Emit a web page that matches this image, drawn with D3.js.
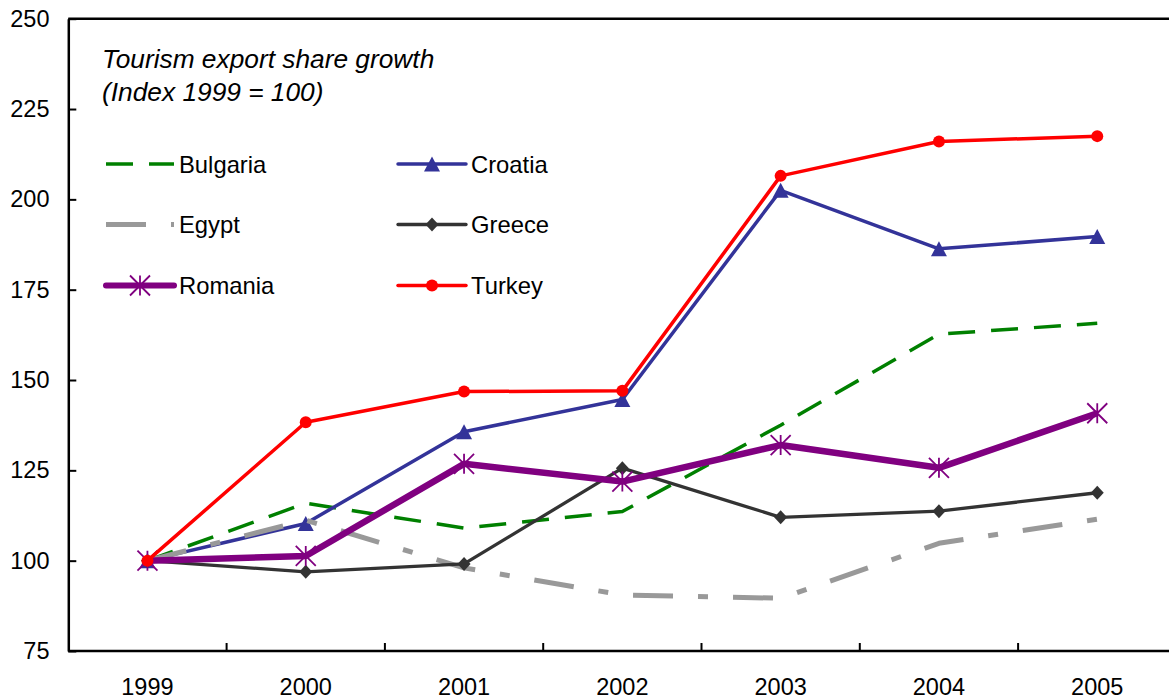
<!DOCTYPE html>
<html>
<head>
<meta charset="utf-8">
<script src="https://cdn.jsdelivr.net/npm/d3@7"></script>
<style>
  html, body { margin: 0; padding: 0; background: #fff; }
  svg { display: block; font-family: "Liberation Sans", Arial, sans-serif; }
</style>
</head>
<body>
<svg id="chart" width="1169" height="700"></svg>
<script>
// Tourism export share growth, index 1999 = 100
const years = ["1999", "2000", "2001", "2002", "2003", "2004", "2005"];
const bulgaria = [100, 115.9, 109.0, 113.6, 137.5, 162.7, 165.7];
const croatia  = [100, 110.3, 135.7, 144.6, 202.5, 186.3, 189.7];
const egypt    = [100, 111.2, 98.0, 90.5, 89.6, 104.8, 111.5];
const greece   = [100, 96.9, 99.1, 125.6, 112.0, 113.7, 118.8];
const romania  = [100, 101.3, 126.8, 121.9, 132.0, 125.7, 140.8];
const turkey   = [100, 138.3, 146.8, 147.0, 206.5, 216.0, 217.5];
const yTicks = [75, 100, 125, 150, 175, 200, 225, 250];
const titleLines = ["Tourism export share growth", "(Index 1999 = 100)"];

const series = [
  { name: "Bulgaria", values: bulgaria, color: "#008000", width: 3.5, dash: "27,16", marker: null },
  { name: "Croatia",  values: croatia,  color: "#333399", width: 3.5, dash: null, marker: "triangle" },
  { name: "Egypt",    values: egypt,    color: "#999999", width: 5,   dash: "40,25,10,25", marker: null },
  { name: "Greece",   values: greece,   color: "#333333", width: 3.3, dash: null, marker: "diamond" },
  { name: "Romania",  values: romania,  color: "#800080", width: 6.5, dash: null, marker: "asterisk" },
  { name: "Turkey",   values: turkey,   color: "#ff0000", width: 3.5, dash: null, marker: "circle" }
];

const svg = d3.select("#chart");
const plotLeft = 68.3, plotTop = 18.7, plotBottom = 651, band = 158.3;

const x = d3.scaleBand().domain(years).range([plotLeft, plotLeft + band * years.length]).padding(0);
const y = d3.scaleLinear().domain([75, 250]).range([plotBottom, plotTop]);
const cx = d => x(d) + x.bandwidth() / 2;

// top frame line
svg.append("line")
  .attr("x1", plotLeft).attr("x2", x.range()[1])
  .attr("y1", plotTop).attr("y2", plotTop)
  .attr("stroke", "#000").attr("stroke-width", 2.5);

// y axis, ticks pointing inward
const yAxis = svg.append("g")
  .attr("transform", `translate(${plotLeft},0)`)
  .call(d3.axisRight(y).tickValues(yTicks).tickSize(8).tickSizeOuter(0).tickFormat(""));
yAxis.select(".domain").attr("stroke", "#000").attr("stroke-width", 2.5);
yAxis.selectAll(".tick line").attr("stroke", "#000").attr("stroke-width", 2);

svg.append("g").selectAll("text").data(yTicks).join("text")
  .attr("x", 49.5).attr("y", d => y(d))
  .attr("text-anchor", "end").attr("dominant-baseline", "central")
  .attr("font-size", 23.5).attr("fill", "#000")
  .text(d => d);

// x axis, ticks between categories pointing inward
const xAxisG = svg.append("g");
xAxisG.append("line")
  .attr("x1", plotLeft).attr("x2", x.range()[1])
  .attr("y1", plotBottom).attr("y2", plotBottom)
  .attr("stroke", "#000").attr("stroke-width", 2.5);
xAxisG.selectAll("line.tk").data(years).join("line")
  .attr("class", "tk")
  .attr("x1", d => x(d) + band).attr("x2", d => x(d) + band)
  .attr("y1", plotBottom).attr("y2", plotBottom - 8)
  .attr("stroke", "#000").attr("stroke-width", 2);
xAxisG.selectAll("text").data(years).join("text")
  .attr("x", d => cx(d)).attr("y", 695)
  .attr("text-anchor", "middle")
  .attr("font-size", 23.5).attr("fill", "#000")
  .text(d => d);

// marker drawing helper
function drawMarker(g, type, color, px, py) {
  if (type === "triangle") {
    g.append("path")
      .attr("d", `M${px},${py - 7.5}L${px + 8},${py + 7.5}L${px - 8},${py + 7.5}Z`)
      .attr("fill", color);
  } else if (type === "diamond") {
    g.append("path")
      .attr("d", `M${px},${py - 7}L${px + 6.5},${py}L${px},${py + 7}L${px - 6.5},${py}Z`)
      .attr("fill", color);
  } else if (type === "circle") {
    g.append("circle").attr("cx", px).attr("cy", py).attr("r", 6).attr("fill", color);
  } else if (type === "asterisk") {
    const r = 10;
    g.append("path")
      .attr("d", `M${px - r},${py - r}L${px + r},${py + r}M${px + r},${py - r}L${px - r},${py + r}M${px},${py - r}L${px},${py + r}`)
      .attr("stroke", color).attr("stroke-width", 1.8).attr("fill", "none");
  }
}

const line = d3.line().x((d, i) => cx(years[i])).y(d => y(d));

series.forEach(s => {
  const g = svg.append("g");
  g.append("path")
    .attr("d", line(s.values))
    .attr("fill", "none")
    .attr("stroke", s.color)
    .attr("stroke-width", s.width)
    .attr("stroke-linejoin", "round")
    .attr("stroke-dasharray", s.dash);
  if (s.marker) {
    s.values.forEach((v, i) => drawMarker(g, s.marker, s.color, cx(years[i]), y(v)));
  }
});

// title
const title = svg.append("text")
  .attr("font-size", 26.3).attr("font-style", "italic").attr("fill", "#000");
titleLines.forEach((t, i) => {
  title.append("tspan").attr("x", 102).attr("y", 68 + i * 32.5).text(t);
});

// legend in two columns
const legendCols = [106, 398];
const legendRows = [164, 224.5, 285.5];
series.forEach((s, i) => {
  const lx = legendCols[i % 2];
  const ly = legendRows[Math.floor(i / 2)];
  const g = svg.append("g");
  g.append("line")
    .attr("x1", lx).attr("x2", lx + 68)
    .attr("y1", ly).attr("y2", ly)
    .attr("stroke", s.color)
    .attr("stroke-width", s.name === "Romania" ? 6 : s.width)
    .attr("stroke-linecap", s.dash ? "butt" : "round")
    .attr("stroke-dasharray", s.dash);
  if (s.marker) drawMarker(g, s.marker, s.color, lx + 34, ly);
  g.append("text")
    .attr("x", lx + 73).attr("y", ly + 8.5)
    .attr("font-size", 23.8).attr("fill", "#000")
    .text(s.name);
});
</script>
</body>
</html>
